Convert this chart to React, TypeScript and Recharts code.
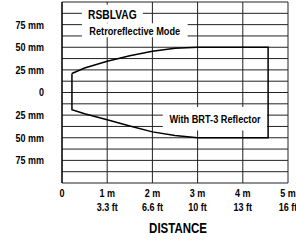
import { ComposedChart, Line, XAxis, YAxis, CartesianGrid, ReferenceArea } from 'recharts'

// distance ticks (m) with the feet equivalents
const distanceTicks = [0, 1, 2, 3, 4, 5]
const feetLabels = ['', '3.3 ft', '6.6 ft', '10 ft', '13 ft', '16 ft']

// beam width grid (mm), lines every 12.5 mm
const widthTicks = [-87.5, -75, -62.5, -50, -37.5, -25, -12.5, 0, 12.5, 25, 37.5, 50, 62.5, 75, 87.5]

// detection envelope, walked round as a closed outline
const envelopeDistance = [0.22, 0.22, 0.5, 1, 1.5, 2, 2.5, 3, 4.56, 4.56, 3, 2.5, 2, 1.5, 1, 0.5, 0.22]
const envelopeWidth = [21, -19, -23.5, -30, -37, -43.5, -47.5, -50, -50, 50, 50, 49, 45.5, 40.5, 34.5, 27, 21]

const envelope = envelopeDistance.map((d, i) => ({ x: d, y: envelopeWidth[i] }))

const FONT = "'Liberation Sans', Arial, Helvetica, sans-serif"
const NARROW = 0.82 // no narrow face installed, so squeeze the regular bold one

// text squeezed horizontally around its anchor x
const Narrow = ({ x, y, size, anchor = 'middle', children, ...rest }: any) => (
  <text
    x={x}
    y={y}
    transform={`matrix(${NARROW},0,0,1,${x * (1 - NARROW)},0)`}
    textAnchor={anchor}
    fontFamily={FONT}
    fontWeight="bold"
    fontSize={size}
    fill="#000"
    {...rest}
  >
    {children}
  </text>
)

const boxes = [
  { text: 'RSBLVAG', x1: 0.44, x2: 1.79, y1: 77, y2: 97, size: 12.5, dy: 0.5 },
  { text: 'Retroreflective Mode', x1: 0.44, x2: 2.78, y1: 61, y2: 76.5, size: 11.2, dy: 1 },
  { text: 'With BRT-3 Reflector', x1: 2.23, x2: 4.54, y1: -42, y2: -16, size: 11.2, dy: 0 },
]

const boxLabel = (text: string, size: number, dy: number) => (props: any) => {
  const vb = props.viewBox
  return (
    <Narrow x={vb.x + vb.width / 2} y={vb.y + vb.height / 2 + dy} size={size} dominantBaseline="central">
      {text}
    </Narrow>
  )
}

const YTick = ({ x, y, payload }: any) => {
  const v = payload.value
  if (v % 25 !== 0) return null
  const label = v === 0 ? '0' : `${Math.abs(v)} mm`
  return (
    <Narrow x={x - 10} y={y + 4} size={11} anchor="end">
      {label}
    </Narrow>
  )
}

const XTick = ({ x, y, payload, index }: any) => {
  const v = payload.value
  return (
    <g>
      <Narrow x={x} y={y + 14} size={11}>
        {v === 0 ? '0' : `${v} m`}
      </Narrow>
      {feetLabels[index] && (
        <Narrow x={x} y={y + 28} size={11}>
          {feetLabels[index]}
        </Narrow>
      )}
    </g>
  )
}

const DistanceLabel = (props: any) => {
  const vb = props.viewBox
  return (
    <Narrow x={vb.x + vb.width / 2 + 3} y={vb.y + 50} size={14}>
      DISTANCE
    </Narrow>
  )
}

export default function App() {
  return (
    <div style={{ position: 'absolute', left: 0, top: 0, background: '#fff' }}>
      <ComposedChart width={296} height={243} data={envelope} margin={{ top: 2, right: 8, left: 0, bottom: 0 }}>
        <CartesianGrid stroke="#222" strokeWidth={1} />
        <XAxis
          type="number"
          dataKey="x"
          domain={[0, 5]}
          ticks={distanceTicks}
          interval={0}
          axisLine={false}
          tickLine={false}
          tickSize={0}
          tickMargin={0}
          height={60}
          tick={<XTick />}
          label={<DistanceLabel />}
        />
        <YAxis
          type="number"
          domain={[-100, 100]}
          ticks={widthTicks}
          interval={0}
          width={62}
          axisLine={{ stroke: '#000', strokeWidth: 1.2 }}
          tickLine={false}
          tick={<YTick />}
        />
        {boxes.map((b) => (
          <ReferenceArea
            key={b.text}
            x1={b.x1}
            x2={b.x2}
            y1={b.y1}
            y2={b.y2}
            fill="#fff"
            fillOpacity={1}
            stroke="none"
            label={boxLabel(b.text, b.size, b.dy)}
          />
        ))}
        <Line
          type="linear"
          dataKey="y"
          stroke="#000"
          strokeWidth={1.5}
          dot={false}
          isAnimationActive={false}
        />
      </ComposedChart>
    </div>
  )
}
